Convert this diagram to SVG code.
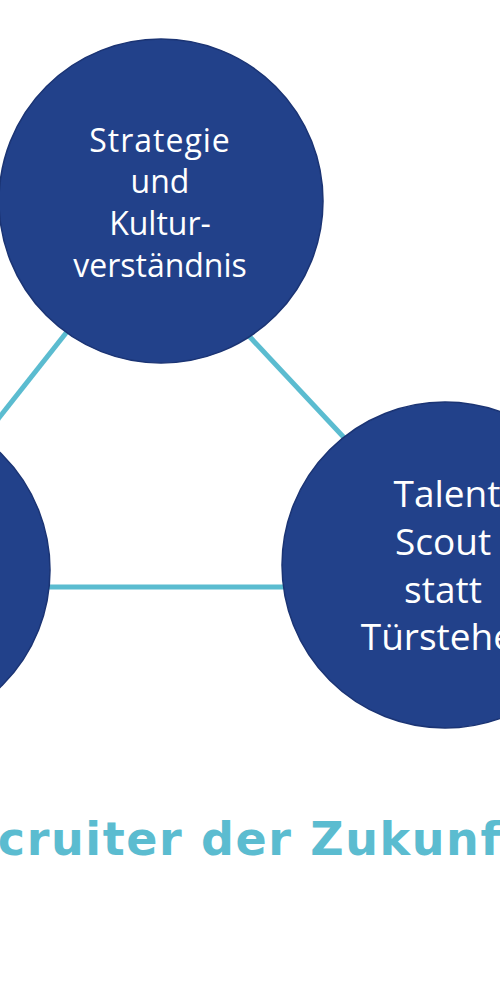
<svg xmlns="http://www.w3.org/2000/svg" width="500" height="1000" viewBox="0 0 500 1000">
<style>
.node{fill:#22418a;stroke:#1b3474;stroke-width:1.5}
.lbl{font-family:"Open Sans","DejaVu Sans",sans-serif;fill:#ffffff;text-anchor:middle}
.edge{stroke:#5bbcd0;stroke-width:5;fill:none}
.title{font-family:"DejaVu Sans","Open Sans",sans-serif;font-weight:bold;font-size:46px;letter-spacing:1.6px;fill:#5bbcd0}
</style>
<rect width="500" height="1000" fill="#ffffff"/>
<g id="connectors">
<line class="edge" x1="-40" y1="467" x2="100" y2="290"/>
<line class="edge" x1="220" y1="305" x2="380" y2="476"/>
<line class="edge" x1="20" y1="587" x2="310" y2="587"/>
</g>
<g id="node-strategie">
<circle class="node" cx="161" cy="201" r="162"/>
<text class="lbl" font-size="32"><tspan x="160" y="152" letter-spacing="1">Strategie</tspan><tspan x="160" y="193">und</tspan><tspan x="160" y="235">Kultur-</tspan><tspan x="160" y="277">verständnis</tspan></text>
</g>
<g id="node-left">
<circle class="node" cx="-113" cy="570" r="163"/>
</g>
<g id="node-talent">
<circle class="node" cx="445" cy="565" r="163"/>
<text class="lbl" font-size="37"><tspan x="447" y="507">Talent</tspan><tspan x="443" y="555">Scout</tspan><tspan x="443" y="603">statt</tspan><tspan x="445" y="650">Türsteher</tspan></text>
</g>
<text class="title" x="-72" y="855">Recruiter der Zukunft</text>
</svg>
